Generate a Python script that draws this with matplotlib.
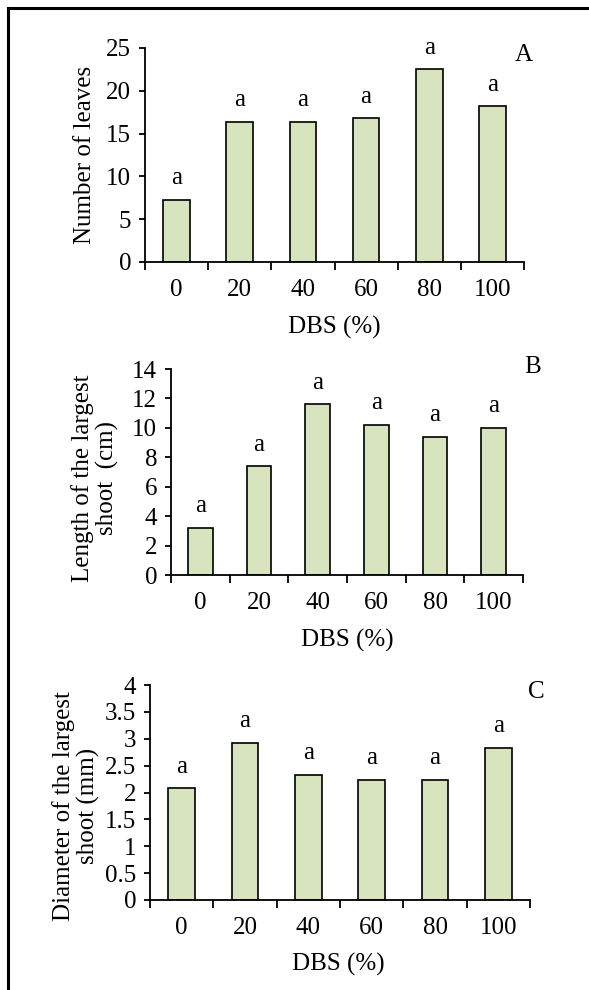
import matplotlib
matplotlib.use("Agg")
import matplotlib.pyplot as plt
from matplotlib.lines import Line2D
from matplotlib.ticker import FixedLocator, FuncFormatter

plt.rcParams['font.family'] = ['Liberation Serif', 'DejaVu Serif']

categories = ["0", "20", "40", "60", "80", "100"]
leaves = [7.3, 16.4, 16.4, 16.8, 22.5, 18.2]
shoot_length = [3.2, 7.4, 11.6, 10.2, 9.4, 10.0]
shoot_diameter = [2.08, 2.93, 2.33, 2.24, 2.24, 2.83]
letters_a = ["a", "a", "a", "a", "a", "a"]
letters_b = ["a", "a", "a", "a", "a", "a"]
letters_c = ["a", "a", "a", "a", "a", "a"]

FS = 18
BAR_COLOR = "#D7E4BD"

fig = plt.figure(figsize=(5.89, 9.9), dpi=100)

# page frame (left and top rules)
fig.add_artist(Line2D([7.5 / 589, 7.5 / 589], [0, 1 - 7.5 / 990], transform=fig.transFigure,
                      color="black", lw=2.2))
fig.add_artist(Line2D([7.5 / 589, 1], [1 - 7.5 / 990, 1 - 7.5 / 990], transform=fig.transFigure,
                      color="black", lw=2.2))

panels = [
    dict(rect=[145 / 589, 1 - 262 / 990, 379 / 589, 214 / 990], vals=leaves, lets=letters_a,
         ymax=25, step=5, ylabel="Number of leaves", ylab_xy=(-0.158, 0.5),
         xlab_xy=(0.499, -0.304), tag="A", tag_xy=(1.0, 0.967)),
    dict(rect=[171 / 589, 1 - 575 / 990, 352 / 589, 206 / 990], vals=shoot_length, lets=letters_b,
         ymax=14, step=2, ylabel="Length of the largest\nshoot  (cm)", ylab_xy=(-0.216, 0.471),
         xlab_xy=(0.5, -0.3155), tag="B", tag_xy=(1.026, 1.01)),
    dict(rect=[150 / 589, 1 - 900 / 990, 380 / 589, 215 / 990], vals=shoot_diameter, lets=letters_c,
         ymax=4, step=0.5, ylabel="Diameter of the largest\nshoot (mm)", ylab_xy=(-0.195, 0.437),
         xlab_xy=(0.495, -0.302), tag="C", tag_xy=(1.016, 0.967)),
]

for p in panels:
    ax = fig.add_axes(p["rect"])
    x = list(range(len(categories)))
    bars = ax.bar(x, p["vals"], width=0.42, color=BAR_COLOR, edgecolor="black", linewidth=1.2,
                  zorder=2)
    for b, lt in zip(bars, p["lets"]):
        ax.annotate(lt, (b.get_x() + b.get_width() / 2, b.get_height()), xytext=(0, 15.5),
                    textcoords="offset points", ha="center", va="center", fontsize=FS)
    ax.set_xlim(-0.5, len(categories) - 0.5)
    ax.set_ylim(0, p["ymax"])
    for s in ["top", "right"]:
        ax.spines[s].set_visible(False)
    for s in ["left", "bottom"]:
        ax.spines[s].set_linewidth(1.3)
    # y ticks
    n = int(round(p["ymax"] / p["step"]))
    yt = [i * p["step"] for i in range(n + 1)]
    ax.set_yticks(yt)
    ax.yaxis.set_major_formatter(FuncFormatter(lambda v, pos: "%g" % v))
    ax.tick_params(axis="y", direction="out", length=4, width=1.3, pad=6, labelsize=FS)
    # x ticks at category boundaries, labels at centers
    ax.xaxis.set_major_locator(FixedLocator([i - 0.5 for i in range(len(categories) + 1)]))
    ax.xaxis.set_major_formatter(FuncFormatter(lambda v, pos: ""))
    ax.xaxis.set_minor_locator(FixedLocator(x))
    ax.set_xticklabels(categories, minor=True)
    ax.tick_params(axis="x", which="major", direction="out", length=6, width=1.3)
    ax.tick_params(axis="x", which="minor", length=0, pad=12, labelsize=FS)
    ax.set_xlabel("DBS (%)", fontsize=FS, va="center")
    ax.xaxis.set_label_coords(*p["xlab_xy"])
    ax.set_ylabel(p["ylabel"], fontsize=FS, va="center", ha="center", multialignment="center",
                  linespacing=1.1)
    ax.yaxis.set_label_coords(*p["ylab_xy"])
    ax.text(p["tag_xy"][0], p["tag_xy"][1], p["tag"], transform=ax.transAxes, ha="center",
            va="center", fontsize=FS)

fig.savefig("out.png", dpi=100)
